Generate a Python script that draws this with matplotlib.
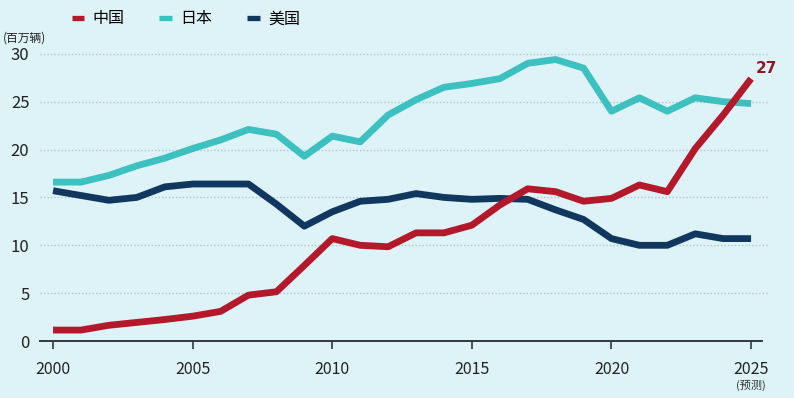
import matplotlib.pyplot as plt
from matplotlib.lines import Line2D

plt.rcParams['font.family'] = ['Noto Sans CJK SC', 'DejaVu Sans']

years = list(range(2000, 2026))
china = [1.15, 1.15, 1.65, 1.95, 2.25, 2.6, 3.1, 4.8, 5.15, 7.9, 10.7, 10.0, 9.85, 11.3, 11.3, 12.1,
         14.2, 15.9, 15.6, 14.6, 14.9, 16.3, 15.6, 20.1, 23.6, 27.4]
japan = [16.6, 16.6, 17.3, 18.3, 19.1, 20.1, 21.0, 22.1, 21.6, 19.3, 21.4, 20.8, 23.6, 25.2, 26.5, 26.9,
         27.4, 29.0, 29.4, 28.5, 24.0, 25.4, 24.0, 25.4, 25.0, 24.8]
usa = [15.7, 15.2, 14.7, 15.0, 16.1, 16.4, 16.4, 16.4, 14.3, 12.0, 13.5, 14.6, 14.8, 15.4, 15.0, 14.8,
       14.9, 14.8, 13.7, 12.7, 10.7, 10.0, 10.0, 11.2, 10.7, 10.7]
names = ['中国', '日本', '美国']
colors = ['#b3192b', '#3cc0c0', '#12375f']
xticks = [2000, 2005, 2010, 2015, 2020, 2025]
yticks = [0, 5, 10, 15, 20, 25, 30]

bg = '#ddf3f7'
fig = plt.figure(figsize=(7.94, 3.98), dpi=100, facecolor=bg)
ax = fig.add_axes([0.051, 0.143, 0.909, 0.746], facecolor=bg)

for vals, c in [(japan, colors[1]), (usa, colors[2]), (china, colors[0])]:
    ax.plot(years, vals, color=c, lw=4.9, solid_joinstyle='round', solid_capstyle='butt', zorder=3)

ax.text(2025.15, china[-1] + 0.3, '27', color='#8a1a25', fontsize=11, fontweight='bold',
        ha='left', va='bottom', family=['DejaVu Sans'])

ax.set_xlim(1999.55, 2025.4)
ax.set_ylim(0, 31)
ax.set_xticks(xticks)
ax.set_xticklabels([str(t) for t in xticks], fontsize=11.5, color='#222222')
ax.set_yticks(yticks)
ax.set_yticklabels([str(t) for t in yticks], fontsize=12, color='#222222')
ax.tick_params(axis='y', length=0, pad=8)
ax.tick_params(axis='x', length=6, width=1.2, color='#2d3a40', pad=8)
for t in yticks[1:]:
    ax.axhline(t, xmin=0, xmax=1.008, color='#b0c6cb', lw=1, ls=(0, (1, 1.5)), zorder=1, clip_on=False)
for s in ['top', 'right', 'left']:
    ax.spines[s].set_visible(False)
ax.spines['bottom'].set_color('#2d3a40')
ax.spines['bottom'].set_linewidth(1.4)

ax.text(2025, -4.6, '(预测)', fontsize=8, ha='center', va='center', color='#333333')
fig.text(0.003, 0.905, '(百万辆)', fontsize=8.5, ha='left', va='center', color='#222222')

handles = [Line2D([0], [0], color=c, lw=3.8, solid_capstyle='butt') for c in colors]
fig.legend(handles, names, loc='upper left', bbox_to_anchor=(0.072, 1.01), ncol=3, frameon=False,
           fontsize=11.5, handlelength=0.8, handletextpad=0.5, columnspacing=2.2)

fig.savefig('out.png', dpi=100, facecolor=bg)
